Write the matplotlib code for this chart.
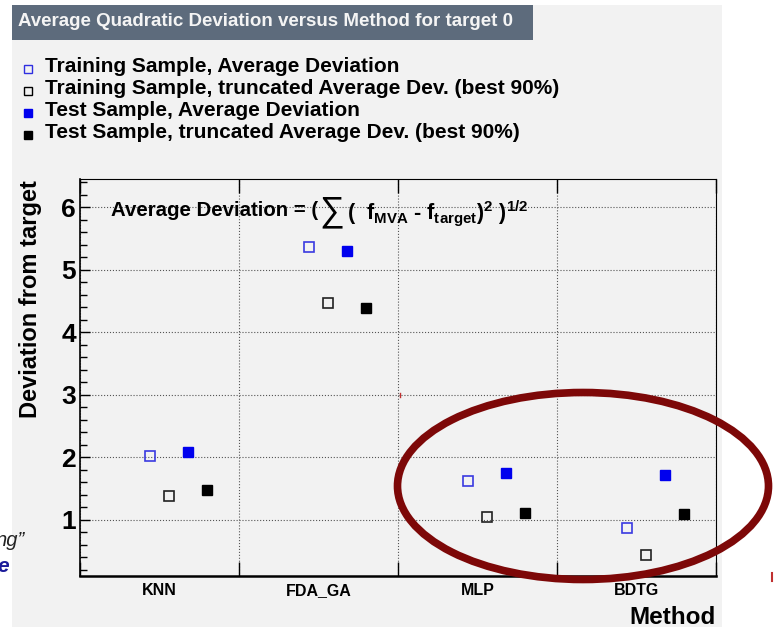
import numpy as np
import matplotlib
matplotlib.use('Agg')
import matplotlib.pyplot as plt
from matplotlib.patches import Rectangle, Ellipse

plt.rcParams['font.family'] = ['Liberation Sans', 'DejaVu Sans']
plt.rcParams['mathtext.fontset'] = 'custom'
plt.rcParams['mathtext.rm'] = 'Liberation Sans:bold'
plt.rcParams['mathtext.bf'] = 'Liberation Sans:bold'
plt.rcParams['mathtext.it'] = 'Liberation Sans:bold'

# data
methods = ['KNN', 'FDA_GA', 'MLP', 'BDTG']
train_avg = [2.02, 5.36, 1.62, 0.87]
train_trunc = [1.38, 4.47, 1.05, 0.43]
test_avg = [2.09, 5.30, 1.74, 1.71]
test_trunc = [1.47, 4.38, 1.11, 1.09]

legend_labels = ['Training Sample, Average Deviation',
                 'Training Sample, truncated Average Dev. (best 90%)',
                 'Test Sample, Average Deviation',
                 'Test Sample, truncated Average Dev. (best 90%)']

W, H = 774, 629
fig = plt.figure(figsize=(W / 100, H / 100), dpi=100)
fig.patch.set_facecolor('white')

# 1. BACKGROUND LAYER (pixel coordinates)
bg = fig.add_axes([0, 0, 1, 1], zorder=0)
bg.set_xlim(0, W)
bg.set_ylim(H, 0)
bg.axis('off')
bg.add_patch(Rectangle((12, 5), 710, 622, facecolor='#f2f2f2', edgecolor='none'))
bg.add_patch(Rectangle((12, 5), 521, 35, facecolor='#5d6b7c', edgecolor='none'))
bg.text(18, 22, 'Average Quadratic Deviation versus Method for target 0',
        color='#f4f4f4', fontsize=13.5, fontweight='bold', va='center', ha='left')

styles = [dict(mfc='none', mec='#2f2fe0'), dict(mfc='none', mec='black'),
          dict(mfc='#0000ee', mec='#0000ee'), dict(mfc='black', mec='black')]
for i, (lab, st) in enumerate(zip(legend_labels, styles)):
    y = 67 + 22 * i
    bg.plot([28], [y + 2], marker='s', ms=5.5, mew=1.0, ls='none', **st)
    bg.text(45, y, lab, fontsize=15, fontweight='bold', va='center', ha='left')

# slide fragments at the left edge
bg.text(-4, 540, 'ng\u201d', fontsize=14.5, style='italic', color='#222222', va='center')
bg.text(-3, 567, 'e', fontsize=15, style='italic', fontweight='bold', color='#1c1c9a', va='center')
bg.plot([400, 400], [393, 397], color='#c03030', lw=1)
bg.plot([772, 772], [573, 581], color='#c03030', lw=1.5)

# 2. MAIN PLOT
x0, x1, ytop, ybot = 80, 716, 179, 576
ax = fig.add_axes([x0 / W, 1 - ybot / H, (x1 - x0) / W, (ybot - ytop) / H], zorder=1)
ax.set_facecolor('none')
xc = np.arange(len(methods))
ax.plot(xc - 0.06, train_avg, 's', ms=7.5, mfc='none', mec='#3a3ae0', mew=1.2)
ax.plot(xc + 0.06, train_trunc, 's', ms=7.5, mfc='none', mec='#222222', mew=1.2)
ax.plot(xc + 0.18, test_avg, 's', ms=7.5, mfc='#0000ee', mec='#0000ee', mew=1.0)
ax.plot(xc + 0.30, test_trunc, 's', ms=7.5, mfc='black', mec='black', mew=1.0)

ax.set_xlim(-0.5, len(methods) - 0.5)
ax.set_ylim(0.1, 6.45)
ax.set_xticks(xc)
ax.set_xticklabels(methods, fontsize=11.5, fontweight='bold')
ax.set_xticks(np.arange(len(methods) + 1) - 0.5, minor=True)
ax.tick_params(axis='x', which='major', length=0, pad=5)
ax.tick_params(axis='x', which='minor', direction='in', length=10, width=1, top=True)
ax.set_yticks([1, 2, 3, 4, 5, 6])
ax.set_yticks(np.arange(0.2, 6.45, 0.2), minor=True)
ax.set_yticklabels(['1', '2', '3', '4', '5', '6'], fontsize=19, fontweight='bold')
ax.tick_params(axis='y', which='major', direction='in', length=7, width=1, pad=3)
ax.tick_params(axis='y', which='minor', direction='in', length=5, width=1)
ax.grid(True, which='major', axis='y', ls=':', color='#555555', lw=0.8)
ax.grid(True, which='minor', axis='x', ls=':', color='#555555', lw=0.8)
for s in ['top', 'right']:
    ax.spines[s].set_linewidth(0.8)
ax.spines['left'].set_linewidth(1.2)
ax.spines['bottom'].set_linewidth(1.8)

ax.set_ylabel('Deviation from target', fontsize=17, fontweight='bold')
ax.yaxis.set_label_coords(-(80 - 31) / 636, (576 - 299) / 397)
ax.yaxis.label.set_va('center')
ax.set_xlabel('Method', fontsize=17.5, fontweight='bold')
ax.xaxis.set_label_coords(1.0, -(617 - 576) / 397)
ax.xaxis.label.set_ha('right')
ax.xaxis.label.set_va('center')

# formula, built from three pieces so the sum sign can be larger
ytxt = 1 - 210 / H
t1 = fig.text(111 / W, ytxt, 'Average Deviation = (', fontsize=14.7, fontweight='bold',
              va='center', ha='left', zorder=2)
fig.canvas.draw()
bb = t1.get_window_extent()
t2 = fig.text((bb.x1 + 1) / W, ytxt - 2 / H, '\u2211', fontsize=25,
              va='center', ha='left', zorder=2)
fig.canvas.draw()
bb2 = t2.get_window_extent()
fig.text((bb2.x1 + 3) / W, ytxt - 3 / H,
         r'(  f$_{MVA}$ - f$_{target}$)$^{2}$ )$^{1/2}$',
         fontsize=15.5, fontweight='bold', va='center', ha='left', zorder=2)

# 3. ANNOTATION OVERLAY
ov = fig.add_axes([0, 0, 1, 1], zorder=3)
ov.set_xlim(0, W)
ov.set_ylim(H, 0)
ov.axis('off')
ov.add_patch(Ellipse((583, 486), 371, 187, facecolor='none', edgecolor='#7d0808', lw=5.5))

fig.savefig('out.png', dpi=100)
